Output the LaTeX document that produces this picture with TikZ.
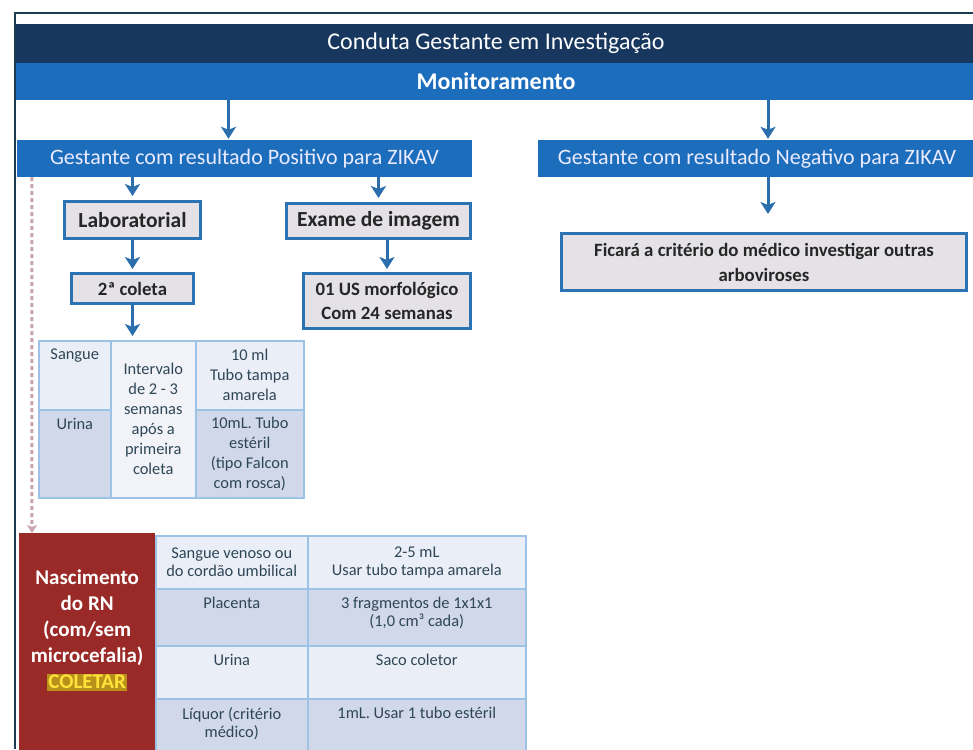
\documentclass[tikz,border=0pt]{standalone}
\usepackage{fontspec}
\setmainfont{Carlito}
\usetikzlibrary{arrows.meta,calc}
\definecolor{navy}{HTML}{17375E}
\definecolor{bandblue}{HTML}{1C6DBC}
\definecolor{arrowblue}{HTML}{2A6EAE}
\definecolor{boxblue}{HTML}{2C73B3}
\definecolor{boxfill}{HTML}{E4E2E6}
\definecolor{framec}{HTML}{1B3D52}
\definecolor{cellline}{HTML}{9CC3E6}
\definecolor{celllight}{HTML}{E9EEF7}
\definecolor{celldark}{HTML}{D0D8EA}
\definecolor{cellwhite}{HTML}{F1F3F8}
\definecolor{celltext}{HTML}{2E4656}
\definecolor{redbox}{HTML}{9A2A27}
\definecolor{dashc}{HTML}{C8A3AB}
\definecolor{hlgold}{HTML}{B8901A}
\definecolor{hltext}{HTML}{FFE23A}
\begin{document}
\begin{tikzpicture}[x=1pt,y=-1pt,
  band/.style={inner sep=0pt, text=white, align=center},
  titlebar/.style={band, fill=navy, minimum width=960pt, minimum height=39pt, font=\fontsize{24}{28}\selectfont},
  monbar/.style={band, fill=bandblue, minimum width=960pt, minimum height=37pt, font=\bfseries\fontsize{24}{28}\selectfont},
  resbar/.style={band, fill=bandblue, minimum height=37pt, font=\fontsize{22}{26}\selectfont, text=white!92!blue},
  flowbox/.style={draw=boxblue, line width=3pt, fill=boxfill, inner sep=0pt, align=center, text=black!85, font=\bfseries\fontsize{21.5}{24}\selectfont},
  smallflow/.style={flowbox, font=\bfseries\fontsize{18.8}{24}\selectfont},
  ficflow/.style={flowbox, font=\bfseries\fontsize{18.8}{25}\selectfont},
  arr/.style={draw=arrowblue, line width=3pt, -{Stealth[length=12pt,width=15pt,inset=3pt]}},
  dashline/.style={draw=dashc, line width=3pt, dash pattern=on 4pt off 3pt, -{Stealth[length=8pt,width=10pt,inset=2pt]}},
  cellbox/.style={draw=cellline, line width=1.5pt, inner sep=0pt, anchor=north west, align=center, text=celltext, font=\fontsize{16.4}{20}\selectfont},
  cellboxb/.style={cellbox, font=\fontsize{16.4}{18}\selectfont},
  ctext/.style={inner sep=0pt, align=center, text=celltext, font=\fontsize{16.4}{18}\selectfont},
  tl/.style={label={[ctext,anchor=north,yshift=-9pt]north:{#1}}},
  redcell/.style={fill=redbox, inner sep=0pt, anchor=north west},
  redtext/.style={inner sep=0pt, align=center, text=white, font=\bfseries\fontsize{21}{26}\selectfont}
]
\useasboundingbox (0,0) rectangle (973,749);
\clip (0,0) rectangle (973,749);
\fill[white] (0,0) rectangle (973,749);

% frame
\draw[framec, line width=2pt] (15,749) -- (15,13) -- (973,13);

% header bands
\node[titlebar] (title) at (496,43.5) {Conduta Gestante em Investigação};
\node[monbar] (mon) at (496,81.5) {Monitoramento};

% result bars
\node[resbar, minimum width=455pt] (pos) at (244.5,158.5) {Gestante com resultado Positivo para ZIKAV};
\node[resbar, minimum width=438pt] (neg) at (757,158.5) {Gestante com resultado Negativo para ZIKAV};

% boxes
\node[flowbox, minimum width=136pt, minimum height=37pt] (lab) at (132.5,220) {Laboratorial};
\node[flowbox, minimum width=184pt, minimum height=35pt] (img) at (378.5,221) {Exame de imagem};
\node[smallflow, minimum width=122pt, minimum height=30pt] (col) at (132.5,288.5) {2ª coleta};
\node[smallflow, minimum width=167pt, minimum height=55pt] (us) at (387,301) {01 US morfológico\\Com 24 semanas};
\node[ficflow, minimum width=405pt, minimum height=57pt] (fic) at (764,262) {Ficará a critério do médico investigar outras\\arboviroses};

% arrows
\draw[arr, shorten >=1pt] ([xshift=-16pt]pos.north |- mon.south) -- ([xshift=-16pt]pos.north);
\draw[arr, shorten >=1pt] ([xshift=11pt]neg.north |- mon.south) -- ([xshift=11pt]neg.north);
\draw[arr, shorten >=4pt] (pos.south -| lab.north) -- (lab.north);
\draw[arr, shorten >=4pt] (pos.south -| img.north) -- (img.north);
\draw[arr, shorten >=3pt] (lab.south) -- (col.north);
\draw[arr, shorten >=3pt] (img.south -| us.north) -- (us.north);
\draw[arr, shorten >=18pt] ([xshift=11pt]neg.south) -- ([xshift=11pt]neg.south |- fic.north);

% table 1
\node[cellbox, fill=celllight, minimum width=72pt, minimum height=69pt, tl={Sangue}] (t1a) at (38,340) {};
\node[cellbox, fill=celldark, minimum width=72pt, minimum height=88pt, tl={Urina}] (t1b) at (38,409) {};
\node[cellbox, fill=cellwhite, minimum width=85pt, minimum height=157pt] (t1c) at (110,340) {Intervalo\\de 2 - 3\\semanas\\após a\\primeira\\coleta};
\node[cellbox, fill=celllight, minimum width=108pt, minimum height=69pt] (t1d) at (195,340) {10 ml\\Tubo tampa\\amarela};
\node[cellbox, fill=celldark, minimum width=108pt, minimum height=88pt] (t1e) at (195,409) {10mL. Tubo\\estéril\\(tipo Falcon\\com rosca)};
\draw[arr, shorten >=4pt] (col.south) -- (col.south |- t1c.north);

% red box
\node[redcell, minimum width=136pt, minimum height=220pt,
  label={[redtext,anchor=north,yshift=-37pt]north:{Nascimento\\do RN\\(com/sem\\microcefalia)\\{\setlength{\fboxsep}{1.5pt}\colorbox{hlgold}{\textcolor{hltext}{COLETAR}}}}}] (red) at (19,533) {};

% table 2
\node[cellboxb, fill=celllight, minimum width=152pt, minimum height=53pt] (r1a) at (155,535) {Sangue venoso ou\\do cordão umbilical};
\node[cellboxb, fill=celllight, minimum width=218pt, minimum height=53pt] (r1b) at (307,535) {2-5 mL\\Usar tubo tampa amarela};
\node[cellboxb, fill=celldark, minimum width=152pt, minimum height=57pt, tl={Placenta}] (r2a) at (155,588) {};
\node[cellboxb, fill=celldark, minimum width=218pt, minimum height=57pt, tl={3 fragmentos de 1x1x1\\(1,0 cm³ cada)}] (r2b) at (307,588) {};
\node[cellboxb, fill=celllight, minimum width=152pt, minimum height=53pt, tl={Urina}] (r3a) at (155,645) {};
\node[cellboxb, fill=celllight, minimum width=218pt, minimum height=53pt, tl={Saco coletor}] (r3b) at (307,645) {};
\node[cellboxb, fill=celldark, minimum width=152pt, minimum height=56pt, tl={Líquor (critério\\médico)}] (r4a) at (155,698) {};
\node[cellboxb, fill=celldark, minimum width=218pt, minimum height=56pt, tl={1mL. Usar 1 tubo estéril}] (r4b) at (307,698) {};

% dashed connector
\draw[dashline] ([xshift=15pt]pos.south west) -- ([xshift=13pt]red.north west);
\end{tikzpicture}
\end{document}
